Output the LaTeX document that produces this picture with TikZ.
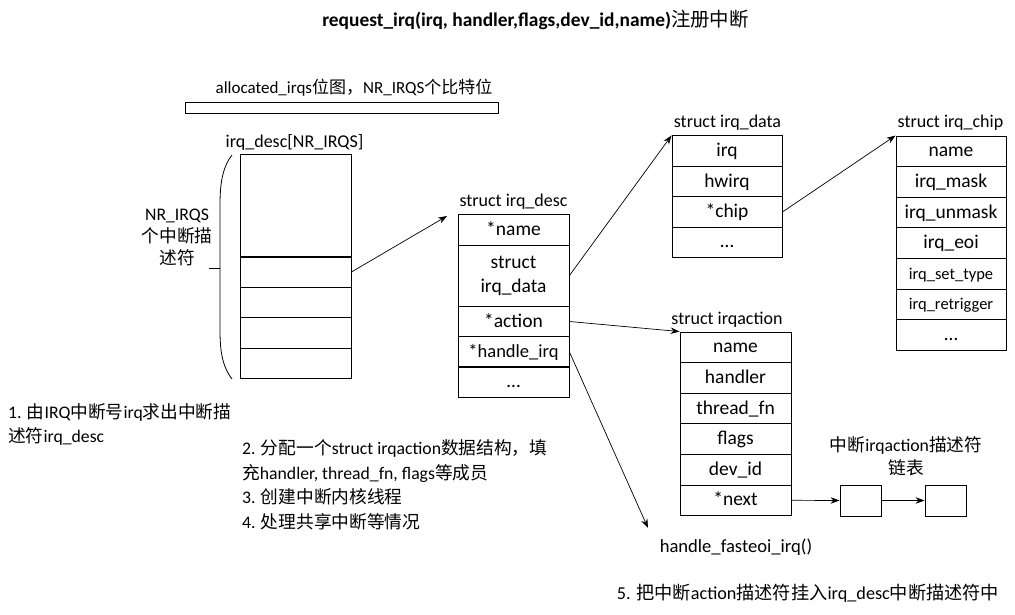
\documentclass[tikz,border=0pt]{standalone}
\usepackage{fontspec}
\setmainfont{Carlito}
\newfontfamily\zhfont{Noto Sans CJK SC}
\newcommand{\zh}[1]{{\zhfont #1}}
\usetikzlibrary{positioning,arrows.meta}

\begin{document}
\begin{tikzpicture}[x=1pt,y=-1pt,
  fld/.style={draw,line width=0.9pt,minimum width=110pt,minimum height=30.6pt,inner sep=0pt,text height=14pt,text depth=3pt,font=\fontsize{19.5}{21}\selectfont},
  lbl/.style={font=\fontsize{18}{20}\selectfont},
  note/.style={align=left,anchor=west,inner sep=0pt,font=\fontsize{17.7}{24.5}\selectfont},
  ptr/.style={-{Stealth[length=9pt,width=6.5pt]},line width=0.7pt}]
  \useasboundingbox (0,0) rectangle (1015,615);

  \node[font=\bfseries\fontsize{19.4}{22}\selectfont] (title) at (535.5,20) {request\_irq(irq, handler,flags,dev\_id,name)\zh{\mdseries 注册中断}};

  % bitmap
  \node[font=\fontsize{17}{19}\selectfont] (bmplbl) at (354,88) {allocated\_irqs\zh{位图，}NR\_IRQS\zh{个比特位}};
  \node[draw,line width=0.9pt,minimum width=313pt,minimum height=11pt,inner sep=0pt] (bitmap) at (341.5,107.5) {};

  % irq_desc array
  \node[lbl] (arrlbl) at (294.5,142) {irq\_desc[NR\_IRQS]};
  \node[fld,minimum width=111pt,minimum height=103pt] (arr1) at (295.5,205.5) {};
  \foreach \y [count=\i from 2] in {272,302.5,333,363.5}
    \node[fld,minimum width=111pt] (arr\i) at (295.5,\y) {};
  \draw[line width=0.8pt] (232,155) .. controls (222,168) and (220,185) .. (220,205) -- (220,330)
    .. controls (220,350) and (222,366) .. (232,379);
  \draw[line width=0.8pt] (209,268) -- (220,268);
  \node[align=center,font=\fontsize{17.7}{22}\selectfont] (cnt) at (177,237) {NR\_IRQS\\\zh{个中断描}\\\zh{述符}};

  % struct irq_desc
  \node[lbl] (desclbl) at (513.5,201.5) {struct irq\_desc};
  \node[fld,minimum width=111pt,minimum height=31pt] (desc1) at (513.5,229.5) {*name};
  \node[fld,minimum width=111pt,minimum height=61pt,text height={},text depth={},align=center,font=\fontsize{19.5}{24}\selectfont] (desc2) at (513.5,275.5) {struct\\irq\_data};
  \node[fld,minimum width=111pt] (desc3) at (513.5,321.5) {*action};
  \node[fld,minimum width=111pt,font=\fontsize{18.5}{20}\selectfont] (desc4) at (513.5,352) {*handle\_irq};
  \node[fld,minimum width=111pt] (desc5) at (513.5,382) {\dots};

  % struct irq_data
  \node[lbl] (datalbl) at (727.5,123) {struct irq\_data};
  \foreach \t [count=\i] in {irq,hwirq,*chip,\dots}
    \node[fld] (data\i) at (727,{151.2+30.4*(\i-1)}) {\t};

  % struct irq_chip
  \node[lbl] (chiplbl) at (950.5,123) {struct irq\_chip};
  \foreach \t/\s [count=\i] in {name/19.5,irq\_mask/19.5,irq\_unmask/19.5,irq\_eoi/19.5,irq\_set\_type/16.5,irq\_retrigger/16.5,\dots/19.5}
    \node[fld,font=\fontsize{\s}{\s}\selectfont] (chip\i) at (951,{151.3+30.6*(\i-1)}) {\t};

  % struct irqaction
  \node[lbl] (actlbl) at (727,320) {struct irqaction};
  \foreach \t [count=\i] in {name,handler,thread\_fn,flags,dev\_id,*next}
    \node[fld,minimum width=111pt] (act\i) at (735.5,{347.3+30.6*(\i-1)}) {\t};

  % irqaction list
  \node[draw,line width=0.9pt,minimum width=41pt,minimum height=31pt,inner sep=0pt] (lst1) at (860.5,500.5) {};
  \node[draw,line width=0.9pt,minimum width=41pt,minimum height=31pt,inner sep=0pt] (lst2) at (945.5,500.5) {};
  \node[align=center,font=\fontsize{17.7}{23}\selectfont] (lstlbl) at (906,456) {\zh{中断}irqaction\zh{描述符}\\\zh{链表}};

  \node[font=\fontsize{18.6}{20}\selectfont] (fasteoi) at (736,547) {handle\_fasteoi\_irq()};

  % pointers
  \coordinate (descin) at (447,216);
  \coordinate (fastin) at (648,528);
  \draw[ptr] (arr2.east) -- (descin);
  \draw[ptr] (desc2.east) -- (data1.north west);
  \draw[ptr] (desc3.east) -- (act1.north west);
  \draw[ptr] (desc4.east) -- (fastin);
  \draw[ptr] (data3.east) -- (chip1.north west);
  \draw[ptr] (act6.east) -- (lst1.west);
  \draw[ptr] (lst1.east) -- (lst2.west);

  % steps
  \node[note] (step1) at (8,424.5) {1. \zh{由}IRQ\zh{中断号}irq\zh{求出中断描}\\\zh{述符}irq\_desc};
  \node[note] (step2) at (242,485) {2. \zh{分配一个}struct irqaction\zh{数据结构，填}\\\zh{充}handler, thread\_fn, flags\zh{等成员}\\3. \zh{创建中断内核线程}\\4. \zh{处理共享中断等情况}};
  \node[font=\fontsize{18.2}{20}\selectfont] (step5) at (808,593) {5. \zh{把中断}action\zh{描述符挂入}irq\_desc\zh{中断描述符中}};
\end{tikzpicture}
\end{document}
